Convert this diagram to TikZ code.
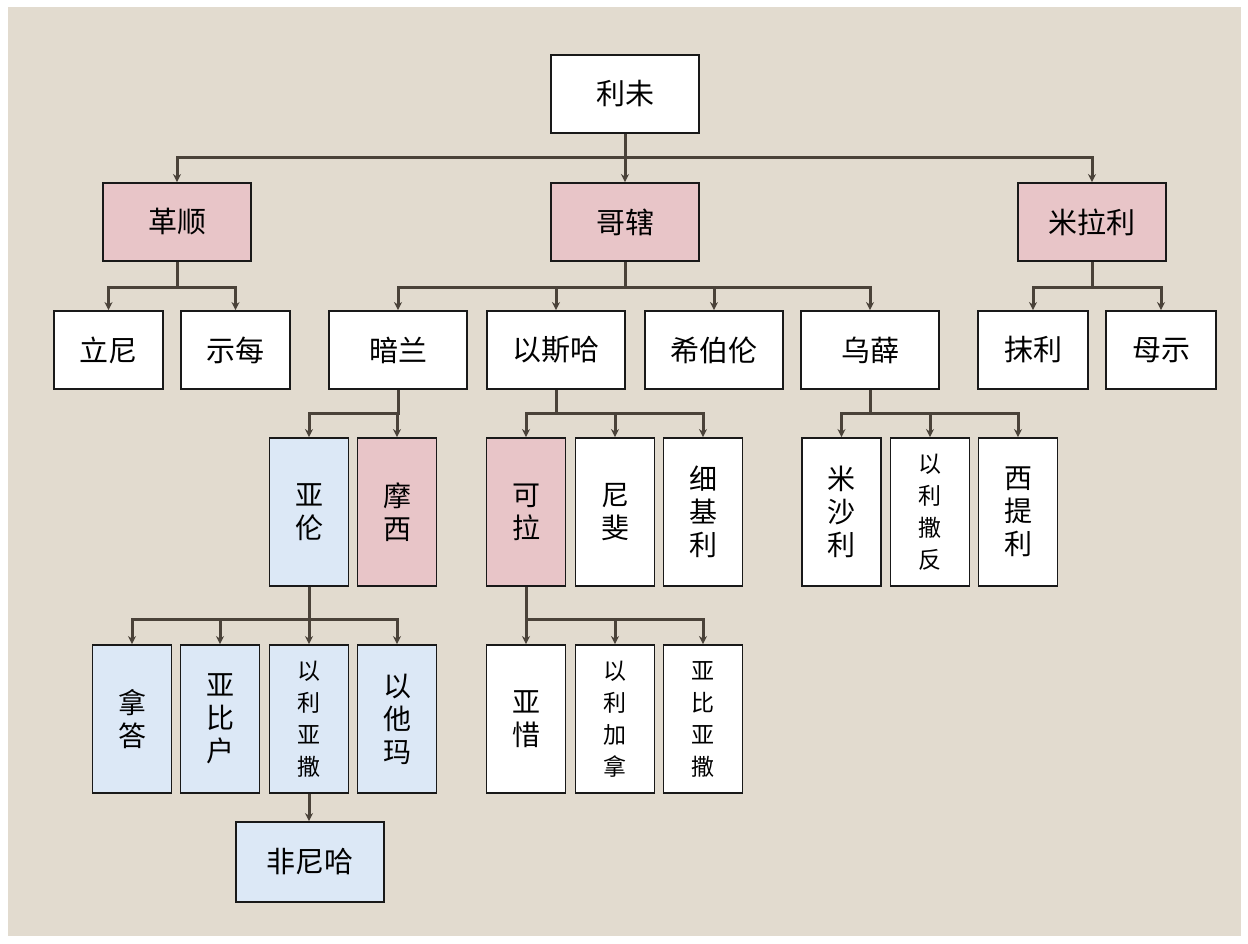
\documentclass[tikz,border=0pt]{standalone}
\usepackage{fontspec}
\setmainfont{Noto Sans CJK SC}
\usetikzlibrary{arrows.meta}
\definecolor{bgbeige}{HTML}{E2DBCF}
\definecolor{pinkfill}{HTML}{E8C5C8}
\definecolor{bluefill}{HTML}{DCE8F6}
\definecolor{connc}{HTML}{4A4239}
\tikzset{
  box/.style={draw=black!90, line width=1.9pt, inner sep=0pt, align=center, text=black},
  hbox/.style={box, minimum width=148pt, minimum height=78pt, font=\fontsize{29}{32}\selectfont},
  mbox/.style={box, minimum width=138pt, minimum height=78pt, font=\fontsize{29}{32}\selectfont},
  sbox/.style={box, minimum width=109pt, minimum height=78pt, font=\fontsize{29}{32}\selectfont},
  vbox/.style={box, minimum width=79pt, minimum height=148pt, font=\fontsize{28}{33}\selectfont},
  vsmall/.style={box, minimum width=79pt, minimum height=148pt, font=\fontsize{23}{32}\selectfont},
  wfill/.style={fill=white},
  pfill/.style={fill=pinkfill},
  bfill/.style={fill=bluefill},
  conn/.style={draw=connc, line width=3pt, -{Stealth[length=8pt,width=8pt]}}
}
\begin{document}
\begin{tikzpicture}[x=1pt,y=-1pt]
\useasboundingbox (0,0) rectangle (1248,943);
\fill[white] (0,0) rectangle (1248,943);
\fill[bgbeige] (8,7) rectangle (1241,936);

% level 0
\node[hbox,wfill] (levi) at (625,94) {利未};
% level 1
\node[hbox,pfill] (gershon) at (177,222) {革顺};
\node[hbox,pfill] (kohath) at (625,222) {哥辖};
\node[hbox,pfill] (merari) at (1092,222) {米拉利};
% level 2
\node[sbox,wfill] (libni) at (108.5,350) {立尼};
\node[sbox,wfill] (shimei) at (235.5,350) {示每};
\node[mbox,wfill] (amram) at (398,350) {暗兰};
\node[mbox,wfill] (izhar) at (556,350) {以斯哈};
\node[mbox,wfill] (hebron) at (714,350) {希伯伦};
\node[mbox,wfill] (uzziel) at (870,350) {乌薛};
\node[sbox,wfill,minimum width=110pt] (mahli) at (1033,350) {抹利};
\node[sbox,wfill,minimum width=110pt] (mushi) at (1161,350) {母示};
% level 3
\node[vbox,bfill] (aaron) at (309,512) {亚\\伦};
\node[vbox,pfill] (moses) at (397,512) {摩\\西};
\node[vbox,pfill] (korah) at (526,512) {可\\拉};
\node[vbox,wfill] (nepheg) at (615,512) {尼\\斐};
\node[vbox,wfill] (zichri) at (703,512) {细\\基\\利};
\node[vbox,wfill] (mishael) at (841.5,512) {米\\沙\\利};
\node[vsmall,wfill] (elzaphan) at (930,512) {以\\利\\撒\\反};
\node[vbox,wfill] (sithri) at (1018,512) {西\\提\\利};
% level 4
\node[vbox,bfill] (nadab) at (132,719) {拿\\答};
\node[vbox,bfill] (abihu) at (220,719) {亚\\比\\户};
\node[vsmall,bfill] (eleazar) at (309,719) {以\\利\\亚\\撒};
\node[vbox,bfill] (ithamar) at (397,719) {以\\他\\玛};
\node[vbox,wfill] (assir) at (526,719) {亚\\惜};
\node[vsmall,wfill] (elkanah) at (615,719) {以\\利\\加\\拿};
\node[vsmall,wfill] (abiasaph) at (703,719) {亚\\比\\亚\\撒};
% level 5
\node[hbox,bfill,minimum height=80pt] (phinehas) at (310,862) {非尼哈};

% connectors
\foreach \p/\c/\d in {levi/gershon/24, levi/kohath/24, levi/merari/24,
  gershon/libni/26, gershon/shimei/26,
  kohath/amram/26, kohath/izhar/26, kohath/hebron/26, kohath/uzziel/26,
  merari/mahli/26, merari/mushi/26,
  amram/aaron/24, amram/moses/24,
  izhar/korah/24, izhar/nepheg/24, izhar/zichri/24,
  uzziel/mishael/24, uzziel/elzaphan/24, uzziel/sithri/24,
  aaron/nadab/33, aaron/abihu/33, aaron/eleazar/33, aaron/ithamar/33,
  korah/assir/33, korah/elkanah/33, korah/abiasaph/33}
  {\draw[conn] (\p.south) -- ++(0,\d) -| (\c.north);}
\draw[conn] (eleazar.south) -- (eleazar.south |- phinehas.north);
\end{tikzpicture}
\end{document}
